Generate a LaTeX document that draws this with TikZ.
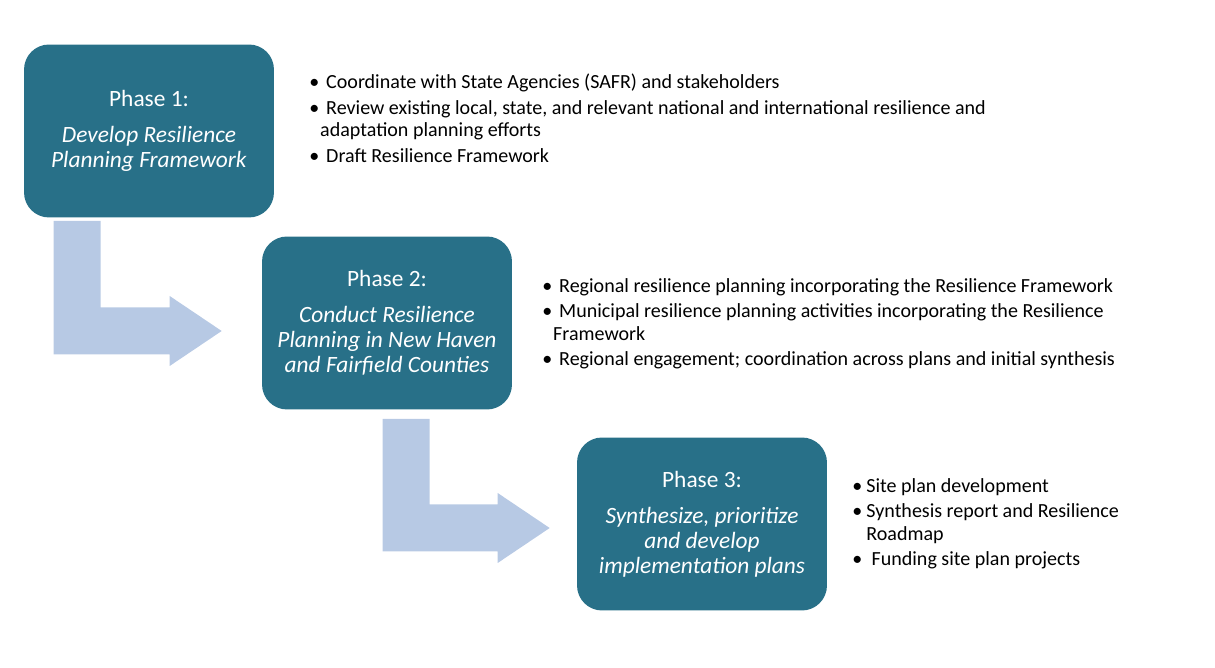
\documentclass[tikz,border=0pt]{standalone}
\usepackage{fontspec}
\setmainfont{Carlito}
\usetikzlibrary{calc}
\definecolor{phasecol}{RGB}{40,112,136}
\definecolor{arrowcol}{RGB}{183,201,228}
\newcommand{\bul}{\makebox[9.6pt][l]{\textbullet}}
\newcommand{\cont}{\hspace*{6.2pt}}
% fat bent arrow: #1 top left of the stem, #2 the tip
\newcommand{\bentarrow}[2]{%
  \fill[arrowcol] (#1) -- ++(47,0) |- ($(#2)+(-52,-23.5)$) -- ++(0,-11.5)
    -- (#2) -- ++(-52,35) -- ++(0,-11.5) -| (#1) -- cycle;}
\tikzset{
  phase/.style={fill=phasecol, text=white, rounded corners=0.5cm,
    minimum width=5cm, minimum height=3.46cm, inner sep=0pt, align=center,
    font=\fontsize{13.3}{14.3}\selectfont},
  items/.style={anchor=north west, inner sep=0pt, align=left,
    font=\fontsize{11.4}{12.6}\selectfont}
}
\begin{document}
\begin{tikzpicture}[x=0.02cm, y=-0.02cm]
  \useasboundingbox (0,0) rectangle (1215,668);
  \node[phase] (p1) at (149,131)
    {Phase 1:\\[6.2pt]\textit{Develop Resilience}\\\textit{Planning Framework}};
  \node[phase] (p2) at (387,323)
    {Phase 2:\\[6.2pt]\textit{Conduct Resilience}\\\textit{Planning in New Haven}\\\textit{and Fairfield Counties}};
  \node[phase] (p3) at (702,524)
    {Phase 3:\\[6.2pt]\textit{Synthesize, prioritize}\\\textit{and develop}\\\textit{implementation plans}};

  \coordinate (a1) at ($(p1.south west)+(30,3)$);
  \coordinate (t1) at ($(p2.west)+(-40,8)$);
  \coordinate (a2) at ($(p2.south west)+(121,9)$);
  \coordinate (t2) at ($(p3.west)+(-27,4)$);
  \bentarrow{a1}{t1}
  \bentarrow{a2}{t2}

  \node[items] (l1) at (309,74)
    {\bul Coordinate with State Agencies (SAFR) and stakeholders\\[2pt]
     \bul Review existing local, state, and relevant national and international resilience and\\
     \cont adaptation planning efforts\\[2pt]
     \bul Draft Resilience Framework};
  \node[items] (l2) at (542,278)
    {\bul Regional resilience planning incorporating the Resilience Framework\\[2pt]
     \bul Municipal resilience planning activities incorporating the Resilience\\
     \cont Framework\\[2pt]
     \bul Regional engagement; coordination across plans and initial synthesis};
  \node[items] (l3) at (852,478)
    {\makebox[8pt][l]{\textbullet}Site plan development\\[2pt]
     \makebox[8pt][l]{\textbullet}Synthesis report and Resilience\\
     \hspace*{8pt}Roadmap\\[2pt]
     \makebox[8pt][l]{\textbullet}\hspace{3pt}Funding site plan projects};
\end{tikzpicture}
\end{document}
